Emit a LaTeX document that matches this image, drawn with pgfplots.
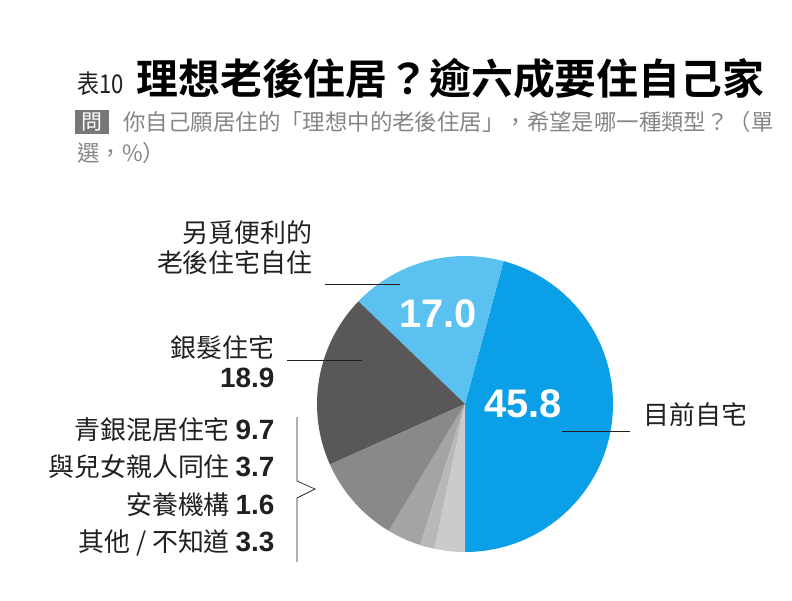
\documentclass[border=0pt]{standalone}
\usepackage{pgfplots}
\pgfplotsset{compat=1.18}
\usepackage{pgfplotstable}
\usepackage{fontspec}
\setmainfont{Noto Sans CJK TC}[BoldFont={Noto Sans CJK TC Bold}]
\newfontfamily\numfont{Liberation Sans}

\definecolor{cHome}{HTML}{0A9FE6}
\definecolor{cOther}{HTML}{5BC1F0}
\definecolor{cSilver}{HTML}{595757}
\definecolor{cMix}{HTML}{898989}
\definecolor{cKids}{HTML}{A4A4A4}
\definecolor{cCare}{HTML}{B8B8B8}
\definecolor{cNA}{HTML}{CBCBCB}
\definecolor{txt}{HTML}{231F20}
\definecolor{subtxt}{HTML}{858585}

% share (%) and slice colour, counter-clockwise from 6 o'clock
\pgfplotstableread{
name   value color
home   45.8  cHome
other  17.0  cOther
silver 18.9  cSilver
mix    9.7   cMix
kids   3.7   cKids
care   1.6   cCare
na     3.3   cNA
}\piedata

\begin{document}
\begin{tikzpicture}
\begin{axis}[
    x=1bp, y=1bp, y dir=reverse,
    xmin=0, xmax=792, ymin=0, ymax=601,
    hide axis, clip=false,
    every node/.append style={inner sep=0pt},
    ]
\path (axis cs:0,0) rectangle (axis cs:792,601);

% pie slices
\def\startang{-90}
\pgfplotstablegetrowsof{\piedata}
\pgfmathtruncatemacro\lastrow{\pgfplotsretval-1}
\pgfplotsforeachungrouped \i in {0,...,\lastrow}{%
  \pgfplotstablegetelem{\i}{value}\of\piedata \let\val\pgfplotsretval
  \pgfplotstablegetelem{\i}{color}\of\piedata \let\col\pgfplotsretval
  \pgfmathsetmacro\endang{\startang+3.6*\val}%
  \edef\sector{\noexpand\fill[\col] (axis cs:465,404) -- ++(\startang:148bp)
    arc[start angle=\startang, end angle=\endang, radius=148bp] -- cycle;}%
  \sector
  \let\startang\endang
}

% values inside the pie
\node[text=white, font=\numfont\bfseries\fontsize{40}{40}\selectfont] at (axis cs:523,404) {45.8};
\node[text=white, font=\numfont\bfseries\fontsize{40}{40}\selectfont] at (axis cs:438,314) {17.0};

% title
\node[anchor=west, text=txt, font=\fontsize{26}{26}\selectfont] at (axis cs:74,84) {\scalebox{0.85}[1]{表10}};
\node[anchor=west, text=black, font=\bfseries\fontsize{42}{42}\selectfont] at (axis cs:133,79) {理想老後住居？逾六成要住自己家};

% question
\fill[subtxt!90!black] (axis cs:75,110) rectangle (axis cs:109,134);
\node[text=white, font=\fontsize{21}{21}\selectfont] at (axis cs:92,122) {問};
\node[anchor=west, text=subtxt, font=\fontsize{22.5}{22.5}\selectfont] at (axis cs:120,122) {你自己願居住的「理想中的老後住居」，希望是哪一種類型？（單};
\node[anchor=west, text=subtxt, font=\fontsize{22.5}{22.5}\selectfont] at (axis cs:74,153) {選，\%）};

% labels
\node[anchor=east, align=right, text=txt, font=\fontsize{26}{30}\selectfont] at (axis cs:316,248) {另覓便利的\\老後住宅自住};
\node[anchor=east, align=right, text=txt, font=\fontsize{26}{30}\selectfont] at (axis cs:278,362) {銀髮住宅\\{\numfont\bfseries\fontsize{28}{30}\selectfont 18.9}};
\node[anchor=west, text=txt, font=\fontsize{26}{30}\selectfont] at (axis cs:640,415) {目前自宅};

\node[anchor=east, text=txt, font=\fontsize{26}{30}\selectfont] at (axis cs:278,430) {青銀混居住宅 {\numfont\bfseries\fontsize{28}{30}\selectfont 9.7}};
\node[anchor=east, text=txt, font=\fontsize{26}{30}\selectfont] at (axis cs:278,467) {與兒女親人同住 {\numfont\bfseries\fontsize{28}{30}\selectfont 3.7}};
\node[anchor=east, text=txt, font=\fontsize{26}{30}\selectfont] at (axis cs:278,505) {安養機構 {\numfont\bfseries\fontsize{28}{30}\selectfont 1.6}};
\node[anchor=east, text=txt, font=\fontsize{26}{30}\selectfont] at (axis cs:278,543) {其他 / 不知道 {\numfont\bfseries\fontsize{28}{30}\selectfont 3.3}};

% leader lines and bracket
\draw[txt, line width=0.8bp] (axis cs:325,284) -- (axis cs:400,284);
\draw[txt, line width=0.8bp] (axis cs:287,360) -- (axis cs:362,360);
\draw[txt, line width=0.8bp] (axis cs:562,431) -- (axis cs:630,431);
\draw[txt, line width=0.7bp] (axis cs:297,417) -- (axis cs:297,481) -- (axis cs:315,489)
    -- (axis cs:297,498) -- (axis cs:297,562);
\end{axis}
\end{tikzpicture}
\end{document}
